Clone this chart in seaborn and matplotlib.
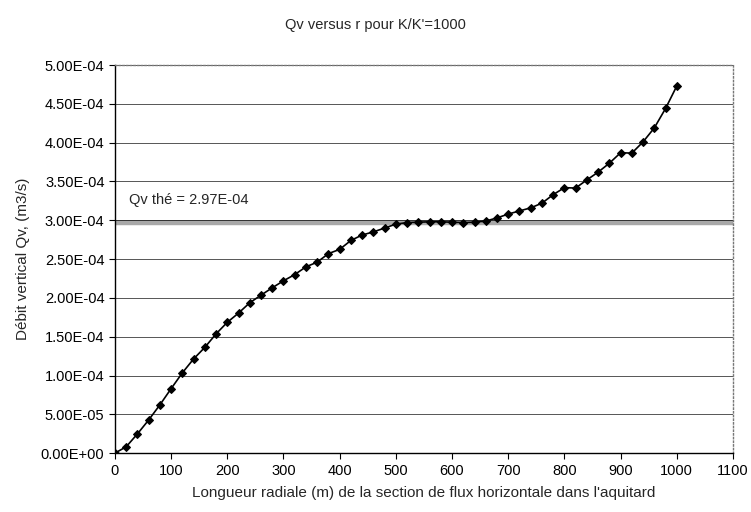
import numpy as np
import pandas as pd
import matplotlib
matplotlib.use("Agg")
import matplotlib.pyplot as plt
import matplotlib.ticker as mticker
import seaborn as sns

# données
longueur = list(range(0, 1001, 20))
qv_e4 = [0.0, 0.081, 0.247, 0.426, 0.621, 0.830, 1.034, 1.213, 1.362, 1.536,
         1.685, 1.804, 1.937, 2.035, 2.13, 2.22, 2.30, 2.40, 2.46, 2.57,
         2.625, 2.74, 2.81, 2.85, 2.90, 2.95, 2.97, 2.975, 2.98, 2.98,
         2.975, 2.97, 2.975, 2.99, 3.03, 3.08, 3.12, 3.16, 3.22, 3.33,
         3.42, 3.415, 3.52, 3.62, 3.735, 3.87, 3.865, 4.01, 4.19, 4.44,
         4.73]
qv_theorique = 2.97e-4
titre = "Qv versus r pour K/K'=1000"

df = pd.DataFrame({'r': longueur, 'qv': np.array(qv_e4) * 1e-4})

sns.set_theme(style="white")
plt.rcParams['font.family'] = ['Liberation Sans', 'DejaVu Sans']

fig = plt.figure(figsize=(7.51, 5.12), dpi=100)
ax = fig.add_axes([0.153, 0.115, 0.823, 0.758])

# grille horizontale
for v in np.arange(5e-5, 5.01e-4, 5e-5):
    ax.axhline(v, color='#555555', lw=0.7, zorder=1)

# valeur théorique
ax.axhline(qv_theorique, color='#a8a8a8', lw=3.2, zorder=1.5)
ax.axhline(3.0e-4, color='#333333', lw=0.7, zorder=1.6)
ax.text(25, 3.17e-4, "Qv thé = 2.97E-04", fontsize=10.5, va='bottom', ha='left')

sns.lineplot(data=df, x='r', y='qv', ax=ax, color='black', lw=1.2,
             marker='D', markersize=4.3, markeredgecolor='black', zorder=3)

ax.set_xlim(0, 1100)
ax.set_ylim(0, 5e-4)
ax.set_xticks(range(0, 1101, 100))
ax.set_yticks(np.arange(0, 5.01e-4, 5e-5))
ax.yaxis.set_major_formatter(mticker.FuncFormatter(lambda v, p: f"{v:.2E}"))
ax.tick_params(axis='both', labelsize=10.5, length=4, width=0.8, direction='out',
               bottom=True, left=True, colors='black')

for s in ['left', 'bottom']:
    ax.spines[s].set_color('black')
    ax.spines[s].set_linewidth(1.0)
for s in ['top', 'right']:
    ax.spines[s].set_color('#777777')
    ax.spines[s].set_linestyle(':')
    ax.spines[s].set_linewidth(1.0)

ax.set_xlabel("Longueur radiale (m) de la section de flux horizontale dans l'aquitard",
              fontsize=11, labelpad=6)
ax.set_ylabel("Débit vertical Qv, (m3/s)", fontsize=11, labelpad=8)
fig.suptitle(titre, fontsize=10.5, y=0.965)

fig.savefig("out.png", dpi=100, facecolor='white')
